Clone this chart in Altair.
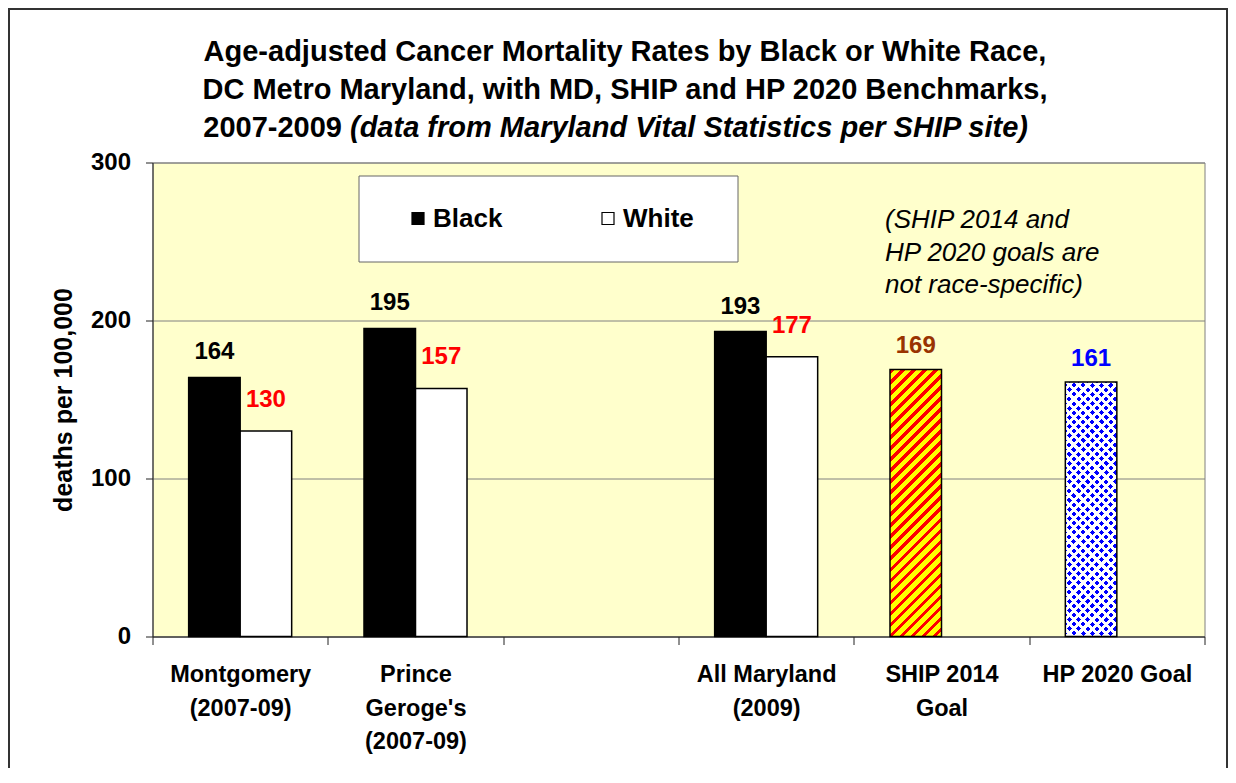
import altair as alt
import pandas as pd

# ---------------- data ----------------
race_categories = ["Montgomery\n(2007-09)", "Prince\nGeroge's\n(2007-09)", "All Maryland\n(2009)"]
black_rates = [164, 195, 193]
white_rates = [130, 157, 177]
goal_categories = ["SHIP 2014\nGoal", "HP 2020 Goal"]
goal_rates = [169, 161]
series_names = ["Black", "White"]
axis_categories = [race_categories[0], race_categories[1], " ", race_categories[2]] + goal_categories
y_ticks = [0, 100, 200, 300]

title_lines = ["Age-adjusted Cancer Mortality Rates by Black or White Race,",
               "DC Metro Maryland, with MD, SHIP and HP 2020 Benchmarks,"]
title_years = "2007-2009"
title_source = "(data from Maryland Vital Statistics per SHIP site)"
note_lines = ["(SHIP 2014 and", "HP 2020 goals are", "not race-specific)"]
y_title = "deaths per 100,000"

# ---------------- layout / style ----------------
FONT = "Liberation Sans, Arial, sans-serif"
PLOT_W, PLOT_H = 1052, 474
PAD_L, PAD_T = 144.5, 154.5
TOTAL_W, TOTAL_H = 1220, 760
PAD_R = TOTAL_W - PAD_L - PLOT_W
PAD_B = TOTAL_H - PAD_T - PLOT_H
Y_MAX = 300
OFF_PAD = 0.702
STEP_X = PLOT_W / len(axis_categories)
BAR_W = STEP_X / (len(series_names) + 2 * OFF_PAD)


def diag_gradient(w, h, c1, c2, frac, period, direction):
    k = (1 / h + 1 / w) / (1 / h ** 2 + 1 / w ** 2)
    D = (w + h) / 2 ** 0.5
    stops = []
    i = 0
    while i * period < D:
        a = i * period / D
        b = min((i * period + frac * period) / D, 1.0)
        c = min((i + 1) * period / D, 1.0)
        stops += [{"offset": a, "color": c1}, {"offset": b, "color": c1},
                  {"offset": b, "color": c2}, {"offset": c, "color": c2}]
        i += 1
    if direction == "/":
        x1, y1, x2, y2 = 0, 0, k / h, k / w
    else:
        x1, y1, x2, y2 = 0, 1, k / h, 1 - k / w
    return {"gradient": "linear", "x1": x1, "y1": y1, "x2": x2, "y2": y2, "stops": stops}


ship_h = goal_rates[0] / Y_MAX * PLOT_H
hp_h = goal_rates[1] / Y_MAX * PLOT_H
ship_fill = diag_gradient(BAR_W, ship_h, "#FF0000", "#FFFF00", 0.42, 7.8, "/")
hp_base_fill = diag_gradient(BAR_W, hp_h, "#0000FF", "#FFFFFF", 0.55, 6.5, "/")
hp_top_fill = diag_gradient(BAR_W, hp_h, "rgba(255,255,255,0)", "#FFFFFF", 0.55, 6.5, "\\")

# ---------------- tables ----------------
race_df = pd.DataFrame({
    "category": race_categories * 2,
    "series": [series_names[0]] * len(race_categories) + [series_names[1]] * len(race_categories),
    "rate": black_rates + white_rates,
})
goal_df = pd.DataFrame({
    "category": goal_categories,
    "series": [series_names[0]] * len(goal_categories),
    "rate": goal_rates,
})
one_row = pd.DataFrame({"k": [0]})

# ---------------- encodings ----------------
x_enc = alt.X(
    "category:N",
    scale=alt.Scale(domain=axis_categories, paddingInner=0, paddingOuter=0),
    title=None,
    axis=alt.Axis(
        labelExpr="split(datum.label, '\\n')", labelAngle=0, labelBaseline="top",
        labelFontSize=23.5, labelLineHeight=33.5, labelPadding=18, labelLimit=400,
        labelOverlap=False, tickBand="extent", tickSize=8, grid=False,
    ),
)
xo_enc = alt.XOffset("series:N", scale=alt.Scale(domain=series_names, paddingInner=0, paddingOuter=OFF_PAD))
y_enc = alt.Y(
    "rate:Q",
    scale=alt.Scale(domain=[0, Y_MAX], nice=False),
    title=y_title,
    axis=alt.Axis(
        values=y_ticks, grid=True, gridColor="#808080", gridWidth=1, tickSize=7,
        labelPadding=15, labelFontSize=24, titleFontSize=25, titleX=-89, titleY=PLOT_H / 2,
        titleAngle=-90, titleAlign="center", titleBaseline="middle",
    ),
)

# ---------------- layers ----------------
legend_box = alt.Chart(one_row).mark_rect(fill="white", stroke="#666666", strokeWidth=1).encode(
    x=alt.value(359 - 152.5), x2=alt.value(738 - 152.5),
    y=alt.value(176 - 162.5), y2=alt.value(262 - 162.5),
)

race_bars = alt.Chart(race_df).mark_bar(stroke="black", strokeWidth=1.5).encode(
    x=x_enc, xOffset=xo_enc, y=y_enc,
    fill=alt.Fill(
        "series:N",
        scale=alt.Scale(domain=series_names, range=["black", "white"]),
        legend=alt.Legend(
            orient="none", legendX=252.5, legendY=43, direction="horizontal", title=None,
            symbolType="square", symbolSize=144, symbolStrokeColor="black", symbolStrokeWidth=1.2,
            labelFont=FONT, labelFontSize=26, labelFontWeight="bold", labelColor="black",
            labelOffset=2, columnPadding=92, padding=0,
        ),
    ),
)

ship_bar = alt.Chart(goal_df).transform_filter(alt.datum.category == goal_categories[0]).mark_bar(
    fill=ship_fill, stroke="black", strokeWidth=1.5).encode(x=x_enc, xOffset=xo_enc, y=y_enc)
hp_base = alt.Chart(goal_df).transform_filter(alt.datum.category == goal_categories[1]).mark_bar(
    fill=hp_base_fill).encode(x=x_enc, xOffset=xo_enc, y=y_enc)
hp_top = alt.Chart(goal_df).transform_filter(alt.datum.category == goal_categories[1]).mark_bar(
    fill=hp_top_fill, stroke="black", strokeWidth=1.5).encode(x=x_enc, xOffset=xo_enc, y=y_enc)

label_style = dict(font=FONT, fontSize=24, fontWeight="bold", baseline="alphabetic", align="center")
black_labels = alt.Chart(race_df).transform_filter(alt.datum.series == series_names[0]).mark_text(
    dy=-18, color="black", **label_style).encode(x=x_enc, xOffset=xo_enc, y=y_enc, text="rate:Q")
white_labels = alt.Chart(race_df).transform_filter(alt.datum.series == series_names[1]).mark_text(
    dy=-24, color="#FF0000", **label_style).encode(x=x_enc, xOffset=xo_enc, y=y_enc, text="rate:Q")
goal_labels = alt.Chart(goal_df).mark_text(dy=-16, **label_style).encode(
    x=x_enc, xOffset=xo_enc, y=y_enc, text="rate:Q",
    color=alt.condition(alt.datum.category == goal_categories[0], alt.value("#993300"), alt.value("#0000FF")),
)

note = alt.Chart(one_row).mark_text(
    text=note_lines, font=FONT, fontSize=26, fontStyle="italic", align="left",
    baseline="alphabetic", lineHeight=32.5, color="black",
).encode(x=alt.value(885 - 152.5), y=alt.value(228.3 - 162.5))

title_main = alt.Chart(one_row).mark_text(
    text=title_lines, font=FONT, fontSize=29, fontWeight="bold", align="center",
    baseline="alphabetic", lineHeight=38, color="black",
).encode(x=alt.value(625 - 152.5), y=alt.value(60.5 - 162.5))
title_year = alt.Chart(one_row).mark_text(
    text=title_years, font=FONT, fontSize=29, fontWeight="bold", align="right",
    baseline="alphabetic", color="black",
).encode(x=alt.value(342 - 152.5), y=alt.value(136.5 - 162.5))
title_src = alt.Chart(one_row).mark_text(
    text=title_source, font=FONT, fontSize=29, fontWeight="bold", fontStyle="italic", align="left",
    baseline="alphabetic", color="black",
).encode(x=alt.value(350 - 152.5), y=alt.value(136.5 - 162.5))

frame = alt.Chart(one_row).mark_rect(fill="transparent", stroke="#333333", strokeWidth=2).encode(
    x=alt.value(1 - PAD_L), x2=alt.value(TOTAL_W - 1 - PAD_L),
    y=alt.value(1 - PAD_T), y2=alt.value(TOTAL_H + 20 - PAD_T),
)

chart = alt.layer(
    legend_box, race_bars, ship_bar, hp_base, hp_top,
    black_labels, white_labels, goal_labels, note, title_main, title_year, title_src, frame,
).properties(
    width=PLOT_W, height=PLOT_H,
    padding={"left": PAD_L, "top": PAD_T, "right": PAD_R, "bottom": PAD_B},
    autosize=alt.AutoSizeParams(type="none"),
).configure(
    background="white",
).configure_view(
    fill="#FFFFCC", stroke="#808080", strokeWidth=1,
).configure_axis(
    labelFont=FONT, titleFont=FONT, labelFontWeight="bold", titleFontWeight="bold",
    labelColor="black", titleColor="black", domainColor="#222222", tickColor="#222222",
    domainWidth=1, tickWidth=1,
)

chart.save("out.html", embed_options={"renderer": "svg", "actions": False})
